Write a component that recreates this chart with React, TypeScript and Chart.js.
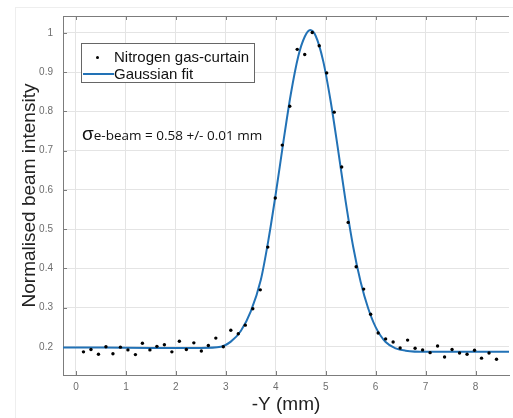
import { useEffect, useRef } from "react";
import { Chart, registerables } from "chart.js";

Chart.register(...registerables);

// Measured data: Nitrogen gas-curtain
const dataX = [0.15, 0.30, 0.45, 0.60, 0.74, 0.89, 1.04, 1.19, 1.33, 1.48, 1.62, 1.77, 1.92, 2.07, 2.21, 2.36, 2.51, 2.65, 2.80, 2.95, 3.10, 3.25, 3.39, 3.54, 3.69, 3.84, 3.99, 4.13, 4.28, 4.43, 4.58, 4.73, 4.87, 5.02, 5.17, 5.32, 5.45, 5.61, 5.76, 5.90, 6.05, 6.20, 6.35, 6.49, 6.64, 6.79, 6.94, 7.09, 7.24, 7.38, 7.53, 7.68, 7.83, 7.98, 8.12, 8.27, 8.42];
const dataY = [0.187, 0.193, 0.181, 0.200, 0.182, 0.199, 0.192, 0.180, 0.209, 0.192, 0.201, 0.205, 0.187, 0.214, 0.193, 0.210, 0.189, 0.203, 0.222, 0.200, 0.242, 0.233, 0.255, 0.297, 0.345, 0.454, 0.579, 0.714, 0.813, 0.958, 0.945, 1.001, 0.967, 0.898, 0.798, 0.658, 0.517, 0.404, 0.347, 0.283, 0.235, 0.220, 0.212, 0.197, 0.217, 0.196, 0.192, 0.185, 0.202, 0.174, 0.193, 0.184, 0.181, 0.191, 0.171, 0.184, 0.168];

// Gaussian fit curve
const fitX = [-0.26, 0.5, 1.5, 2.5, 2.9, 3.1, 3.3, 3.5, 3.7, 3.85, 4.0, 4.15, 4.3, 4.45, 4.58, 4.69, 4.8, 4.95, 5.1, 5.25, 5.4, 5.55, 5.7, 5.85, 6.0, 6.2, 6.4, 6.6, 7.0, 8.0, 8.67];
const fitY = [0.198, 0.198, 0.197, 0.197, 0.2, 0.213, 0.24, 0.29, 0.37, 0.47, 0.59, 0.72, 0.843, 0.94, 0.99, 1.007, 0.992, 0.928, 0.825, 0.7, 0.57, 0.455, 0.365, 0.298, 0.25, 0.212, 0.196, 0.19, 0.187, 0.187, 0.187];

const xTicks = [0, 1, 2, 3, 4, 5, 6, 7, 8];
const yTicks = [0.2, 0.3, 0.4, 0.5, 0.6, 0.7, 0.8, 0.9, 1];

const X_MIN = -0.26;
const X_MAX = 8.67;
const Y_MIN = 0.128;
const Y_MAX = 1.043;

const FIT_COLOR = "#2272b6";
const AXIS_COLOR = "#7c7c7c";

const framePlugin = {
  id: "frame",
  beforeDatasetsDraw(chart: any) {
    const { ctx, chartArea, scales } = chart;
    const { left, right, top, bottom } = chartArea;
    ctx.save();
    ctx.strokeStyle = AXIS_COLOR;
    ctx.lineWidth = 1;
    ctx.beginPath();
    ctx.moveTo(left, Math.round(top) + 0.5);
    ctx.lineTo(right, Math.round(top) + 0.5);
    xTicks.forEach((v) => {
      const px = Math.round(scales.x.getPixelForValue(v)) + 0.5;
      ctx.moveTo(px, top);
      ctx.lineTo(px, top + 4);
      ctx.moveTo(px, bottom);
      ctx.lineTo(px, bottom - 4);
    });
    yTicks.forEach((v) => {
      const py = Math.round(scales.y.getPixelForValue(v)) + 0.5;
      ctx.moveTo(left, py);
      ctx.lineTo(left + 4, py);
    });
    ctx.stroke();
    ctx.restore();
  },
};

export default function App() {
  const canvasRef = useRef<HTMLCanvasElement | null>(null);

  useEffect(() => {
    if (!canvasRef.current) return;
    const chart = new Chart(canvasRef.current, {
      type: "scatter",
      data: {
        datasets: [
          {
            label: "Nitrogen gas-curtain",
            data: dataX.map((x, i) => ({ x, y: dataY[i] })),
            showLine: false,
            pointRadius: 1.7,
            pointBackgroundColor: "#000",
            pointBorderWidth: 0,
            order: 1,
          },
          {
            label: "Gaussian fit",
            data: fitX.map((x, i) => ({ x, y: fitY[i] })),
            showLine: true,
            pointRadius: 0,
            borderColor: FIT_COLOR,
            borderWidth: 2,
            cubicInterpolationMode: "monotone",
            order: 2,
          },
        ],
      },
      options: {
        responsive: false,
        animation: false,
        devicePixelRatio: 1,
        layout: { padding: { top: 16, right: 0, left: 0, bottom: 0 } },
        plugins: {
          legend: { display: false },
          tooltip: { enabled: false },
        },
        scales: {
          x: {
            type: "linear",
            min: X_MIN,
            max: X_MAX,
            afterBuildTicks: (s: any) => {
              s.ticks = xTicks.map((v) => ({ value: v }));
            },
            afterFit: (s: any) => {
              s.height = 43;
            },
            grid: { color: "#e4e4e4", drawTicks: false },
            border: { color: AXIS_COLOR, width: 1 },
            ticks: {
              padding: 6,
              color: "#6e6e6e",
              font: { family: "Liberation Sans", size: 10 },
              maxRotation: 0,
              callback: (v: any) => String(v),
            },
            title: {
              display: true,
              text: "-Y (mm)",
              color: "#222",
              font: { family: "Liberation Sans", size: 19 },
              padding: { top: 0, bottom: 1.5 },
            },
          },
          y: {
            type: "linear",
            min: Y_MIN,
            max: Y_MAX,
            afterBuildTicks: (s: any) => {
              s.ticks = yTicks.map((v) => ({ value: v }));
            },
            afterFit: (s: any) => {
              s.width = 63;
            },
            grid: { color: "#e4e4e4", drawTicks: false },
            border: { color: AXIS_COLOR, width: 1 },
            ticks: {
              padding: 10,
              color: "#6e6e6e",
              font: { family: "Liberation Sans", size: 10 },
              callback: (v: any) => String(v),
            },
            title: {
              display: true,
              text: "Normalised beam intensity",
              color: "#222",
              font: { family: "Liberation Sans", size: 19 },
              padding: { top: 18, bottom: 0 },
            },
          },
        },
      },
      plugins: [framePlugin],
    });
    return () => chart.destroy();
  }, []);

  return (
    <div
      style={{
        position: "fixed",
        left: 0,
        top: 0,
        width: 513,
        height: 418,
        background: "#fff",
        overflow: "hidden",
      }}
    >
      <div
        style={{
          position: "absolute",
          left: 15,
          top: 7,
          width: 520,
          height: 430,
          borderLeft: "1px solid #eeeeee",
          borderTop: "1px solid #eeeeee",
        }}
      />
      <canvas
        ref={canvasRef}
        width={513}
        height={418}
        style={{ position: "absolute", left: 0, top: 0, width: 513, height: 418 }}
      />
      {/* Legend */}
      <div
        style={{
          position: "absolute",
          left: 81,
          top: 43,
          width: 172,
          height: 38,
          border: "1px solid #666",
          background: "#fff",
          fontFamily: "Liberation Sans",
          fontSize: 15,
          color: "#111",
        }}
      >
        <div
          style={{
            position: "absolute",
            left: 14,
            top: 12,
            width: 3,
            height: 3,
            borderRadius: "50%",
            background: "#000",
          }}
        />
        <div style={{ position: "absolute", left: 32, top: 4, lineHeight: "17px", whiteSpace: "nowrap" }}>
          Nitrogen gas-curtain
        </div>
        <div
          style={{
            position: "absolute",
            left: 1,
            top: 29,
            width: 31,
            height: 2,
            background: FIT_COLOR,
          }}
        />
        <div style={{ position: "absolute", left: 32, top: 21, lineHeight: "17px", whiteSpace: "nowrap" }}>
          Gaussian fit
        </div>
      </div>
      {/* Annotation */}
      <div
        style={{
          position: "absolute",
          left: 82,
          top: 122,
          whiteSpace: "nowrap",
          fontFamily: "Open Sans",
          fontSize: 13.5,
          lineHeight: "24px",
          color: "#111",
        }}
      >
        <span style={{ fontFamily: "Liberation Sans", fontSize: 19 }}>σ</span>
        <span>e-beam = 0.58 +/- 0.01 mm</span>
      </div>
    </div>
  );
}
